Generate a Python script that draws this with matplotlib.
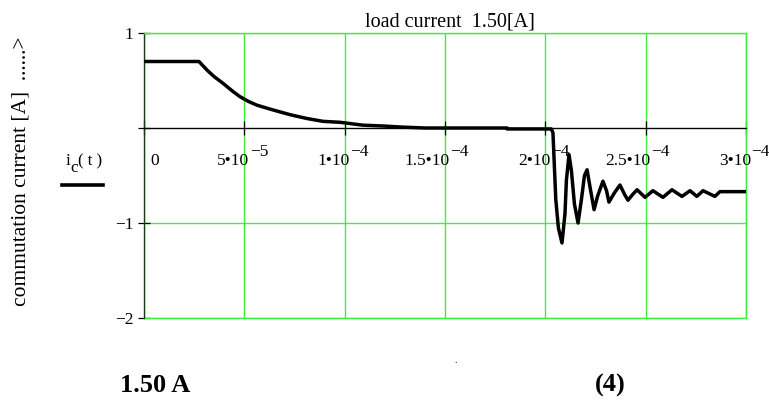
import numpy as np
import matplotlib
matplotlib.use("Agg")
import matplotlib.pyplot as plt
from matplotlib.lines import Line2D

plt.rcParams['font.family'] = ['Liberation Serif', 'DejaVu Serif']

# ---- data (time in units of 1e-5 s, current in A) ----
t_e5 = [0.00, 2.74, 3.14, 3.50, 3.94, 4.40, 4.78, 5.20, 5.63, 6.43, 7.28, 8.12,
        8.92, 9.77, 10.9, 12.0, 12.8, 14.0, 18.1, 18.1, 20.30, 20.38, 20.45,
        20.52, 20.65, 20.83, 20.98, 21.05, 21.18, 21.30, 21.45, 21.63, 21.80,
        21.95, 22.08, 22.25, 22.43, 22.60, 22.87, 23.05, 23.17, 23.45, 23.72,
        23.95, 24.12, 24.35, 24.57, 24.97, 25.36, 25.86, 26.31, 26.81, 27.21,
        27.55, 27.86, 28.45, 28.70, 30.00]
i_c = [0.70, 0.70, 0.61, 0.54, 0.47, 0.39, 0.33, 0.28, 0.24, 0.19, 0.14, 0.10,
       0.07, 0.06, 0.03, 0.02, 0.01, 0.00, 0.00, -0.01, -0.01, -0.05, -0.40,
       -0.75, -1.05, -1.21, -0.90, -0.55, -0.28, -0.45, -0.80, -1.00, -0.75,
       -0.50, -0.44, -0.65, -0.86, -0.72, -0.56, -0.66, -0.78, -0.68, -0.60,
       -0.70, -0.76, -0.70, -0.65, -0.73, -0.66, -0.73, -0.65, -0.72, -0.66,
       -0.72, -0.66, -0.72, -0.67, -0.67]

x_ticks = [0, 5e-5, 1e-4, 1.5e-4, 2e-4, 2.5e-4, 3e-4]
x_mant = ["0", "5•10", "1•10", "1.5•10", "2•10", "2.5•10", "3•10"]
x_exp = ["", "−5", "−4", "−4", "−4", "−4", "−4"]
y_ticks = [-2, -1, 0, 1]
y_labels = ["−2", "−1", "", "1"]

title = "load current  1.50[A]"
ylabel = "commutation current [A]  ......>"

# ---- figure ----
W, H = 769, 405
fig = plt.figure(figsize=(W / 100, H / 100), dpi=100)
L, R, T, B = 144, 746, 33, 318
ax = fig.add_axes([L / W, 1 - B / H, (R - L) / W, (B - T) / H])

t = np.array(t_e5) * 1e-5
ax.plot(t, i_c, color='black', lw=2.5, solid_joinstyle='round', zorder=5)

ax.set_xlim(0, 3e-4)
ax.set_ylim(-2, 1)
green = '#3cf03c'
ax.set_xticks(x_ticks)
ax.set_yticks(y_ticks)
ax.grid(True, color=green, lw=1.0)
ax.set_axisbelow(True)

for s in ['top', 'right']:
    ax.spines[s].set_color(green)
    ax.spines[s].set_linewidth(1.0)
ax.spines['left'].set_color('#1c3a1c')
ax.spines['left'].set_linewidth(1.0)
ax.spines['bottom'].set_position(('data', 0))
ax.spines['bottom'].set_color('black')
ax.spines['bottom'].set_linewidth(0.9)
ax.axhline(-2, color=green, lw=1.0, clip_on=False)

ax.tick_params(axis='x', direction='inout', length=10, width=0.9,
               color='black', labelbottom=False)
ax.tick_params(axis='y', direction='inout', length=9, width=0.9,
               color='black', labelsize=12.5, pad=3)
ax.set_yticklabels(y_labels)

px = 3e-4 / (R - L)
for xv, m, e in zip(x_ticks, x_mant, x_exp):
    if e == "":
        ax.text(xv + 6 * px, -0.39, m, ha='left', va='baseline', fontsize=12.5)
    else:
        ax.text(xv + 5 * px, -0.39, m, ha='right', va='baseline', fontsize=12.5)
        ax.text(xv + 5.5 * px, -0.29, e, ha='left', va='baseline', fontsize=12.5,
                clip_on=False)

fig.text(450 / W, 1 - 26 / H, title, ha='center', va='baseline', fontsize=14.5)
fig.text(21 / W, 1 - 171 / H, ylabel, rotation=90, ha='center', va='center',
         fontsize=15.5)

# legend
fig.text(66 / W, 1 - 165 / H, "i", ha='left', va='baseline', fontsize=12.5)
fig.text(70.5 / W, 1 - 172 / H, "c", ha='left', va='baseline', fontsize=12.5)
fig.text(78 / W, 1 - 165 / H, "( t )", ha='left', va='baseline', fontsize=12)
fig.add_artist(Line2D([62 / W, 103 / W], [1 - 185 / H, 1 - 185 / H],
                      transform=fig.transFigure, color='black', lw=2.6))

# bottom labels
fig.text(120 / W, 1 - 392 / H, "1.50 A", ha='left', va='baseline',
         fontsize=19, fontweight='bold')
fig.text(595 / W, 1 - 392 / H, "(4)", ha='left', va='baseline',
         fontsize=19, fontweight='bold')
fig.text(456 / W, 1 - 363 / H, ".", ha='center', va='baseline', fontsize=7)

fig.savefig("out.png", dpi=100)
